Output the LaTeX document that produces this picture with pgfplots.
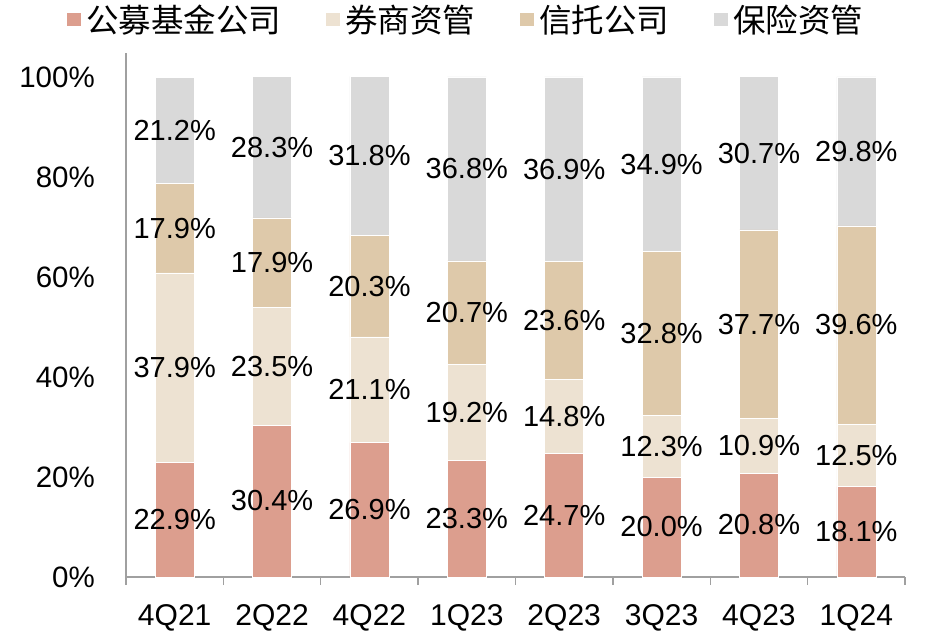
\documentclass[border=0pt]{standalone}
\usepackage{pgfplots}
\pgfplotsset{compat=1.18}
\usepackage{pgfplotstable}
\usepackage{fontspec}
\setmainfont{Liberation Sans}
\newfontfamily\cjk{Noto Sans CJK SC}
\definecolor{cA}{RGB}{220,158,142}
\definecolor{cB}{RGB}{237,226,210}
\definecolor{cC}{RGB}{222,201,170}
\definecolor{cD}{RGB}{217,217,217}
\definecolor{axgray}{RGB}{160,160,160}
\pgfplotstableread{
x a b c d
0 22.9 37.9 17.9 21.2
1 30.4 23.5 17.9 28.3
2 26.9 21.1 20.3 31.8
3 23.3 19.2 20.7 36.8
4 24.7 14.8 23.6 36.9
5 20.0 12.3 32.8 34.9
6 20.8 10.9 37.7 30.7
7 18.1 12.5 39.6 29.8
}\data
\begin{document}
\begin{tikzpicture}
\path (-126pt,-66pt) rectangle (811pt,577pt);
\begin{axis}[
  scale only axis,
  width=779pt, height=524pt,
  ybar stacked, bar width=0.4,
  xmin=-0.5, xmax=7.5, ymin=0, ymax=104.8,
  axis x line=bottom, axis y line=left,
  axis line style={-, draw=axgray, line width=1.3pt},
  xtick={0,...,7},
  xticklabels={4Q21,2Q22,4Q22,1Q23,2Q23,3Q23,4Q23,1Q24},
  minor xtick={-0.5,0.5,...,7.5},
  tick align=outside,
  major tick length=0pt,
  minor tick length=8pt,
  minor x tick style={draw=axgray, line width=1.3pt},
  major x tick style={draw=none},
  ytick style={draw=none},
  ytick={0,20,...,100},
  yticklabel={\pgfmathprintnumber{\tick}\%},
  /pgf/number format/assume math mode=true,
  xticklabel style={font=\fontsize{30}{30}\selectfont, inner sep=0pt, anchor=north, yshift=-27pt},
  yticklabel style={font=\fontsize{29.5}{29.5}\selectfont, inner sep=0pt, anchor=east, xshift=-31pt},
  point meta=rawy,
  nodes near coords={\pgfmathprintnumber[fixed,fixed zerofill,precision=1]{\pgfplotspointmeta}\%},
  every node near coord/.append style={font=\fontsize{29}{29}\selectfont, anchor=center, inner sep=0pt, text=black},
  legend columns=4,
  legend style={draw=none, fill=none, inner sep=0pt, at={(0.439,1)}, anchor=north, yshift=48pt,
    font=\cjk\fontsize{32.5}{32.5}\selectfont,
    /tikz/every even column/.append style={column sep=40pt},
    nodes={inner xsep=5pt, inner ysep=0pt}},
  legend image code/.code={\fill[#1,draw=none] (0pt,-6.5pt) rectangle (14pt,6.5pt);},
]
\addplot[fill=cA, draw=white, line width=0.5pt] table[x=x,y=a]{\data};
\addplot[fill=cB, draw=white, line width=0.5pt] table[x=x,y=b]{\data};
\addplot[fill=cC, draw=white, line width=0.5pt] table[x=x,y=c]{\data};
\addplot[fill=cD, draw=white, line width=0.5pt] table[x=x,y=d]{\data};
\legend{公募基金公司,券商资管,信托公司,保险资管}
\end{axis}
\end{tikzpicture}
\end{document}
